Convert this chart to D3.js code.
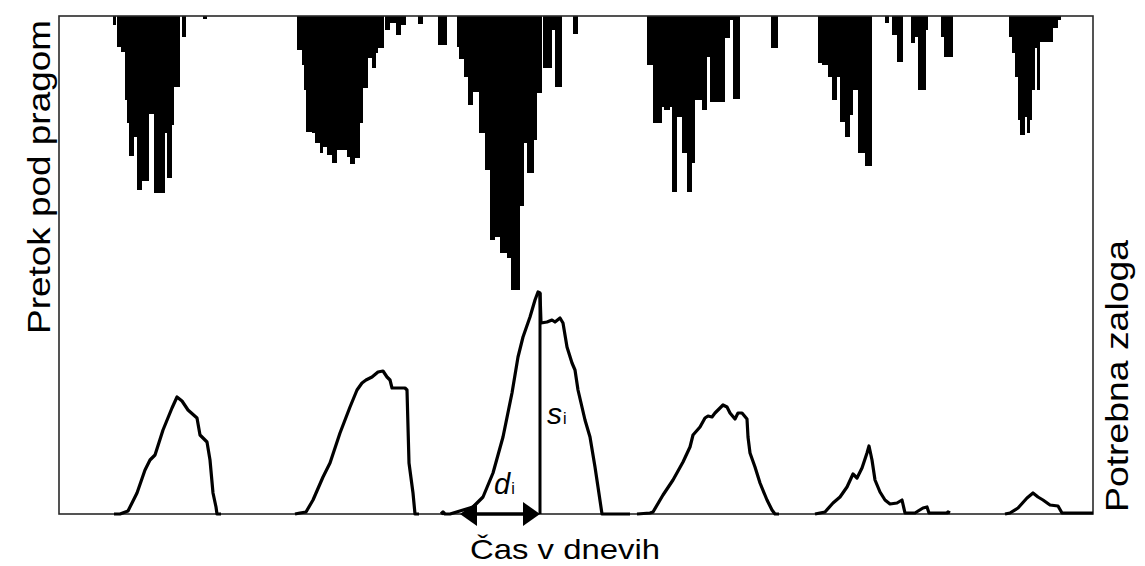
<!DOCTYPE html>
<html><head><meta charset="utf-8">
<script src="https://cdn.jsdelivr.net/npm/d3@7"></script>
<style>body{margin:0;background:#fff}svg{display:block}</style>
</head><body><svg id="c" width="1145" height="566"></svg>
<script>
// ---------- DATA ----------
// time axis in days (0..1034); deficit steps: [startDay, endDay, deficit]
const deficitSteps = [
 [54,57,9],[58,62,31],[62,66,36],[66,68,84],[68,70,107],[70,75,140],[75,78,121],[78,83,174],[83,90,165],[90,95,98],[95,106,177],[106,108,117],[108,113,162],[113,115,109],[115,121,71],[123,127,21],[144,148,3],
 [238,243,34],[243,245,49],[245,247,74],[247,253,116],[253,256,117],[256,261,127],[261,264,137],[264,268,131],[268,273,139],[273,278,147],[278,288,134],[288,291,141],[291,296,148],[296,301,142],[301,304,107],[304,309,72],[309,313,42],[313,317,52],[317,319,37],[319,325,32],[326,331,14],[331,337,7],[337,342,19],[342,347,9],[359,364,8],[379,388,29],
 [398,400,31],[400,405,43],[405,409,61],[409,414,89],[414,420,76],[420,426,117],[426,431,154],[431,436,224],[436,441,221],[441,448,237],[448,452,242],[452,461,274],[461,465,190],[465,468,127],[468,475,157],[475,478,124],[478,483,77],[484,493,52],[493,496,14],[496,503,71],[514,519,18],
 [588,594,49],[594,603,107],[603,605,91],[605,611,94],[611,613,91],[613,618,176],[618,623,101],[623,628,137],[628,633,176],[633,636,147],[636,643,84],[643,648,94],[648,651,41],[651,666,86],[666,671,22],[671,674,4],[674,681,83],[712,719,32],
 [759,763,47],[763,769,49],[769,773,61],[773,778,84],[778,781,61],[781,786,106],[786,791,121],[791,794,99],[794,799,74],[799,806,137],[806,813,150],[826,830,7],[833,838,19],[838,844,46],[852,856,27],[856,859,21],[859,867,74],[867,869,14],[882,885,21],[885,894,41],
 [950,953,21],[953,956,37],[956,959,61],[959,961,104],[961,966,119],[966,968,101],[968,971,117],[971,973,104],[973,976,74],[976,978,32],[978,981,74],[981,984,26],[984,994,26],[994,999,12],[999,1002,4]
];
// required storage, one array per drought event: [day, storage]
const storage1 = [[55,0],[61,0],[69,3],[78,21],[86,44],[91,54],[96,59],[104,84],[113,106],[118,117],[123,113],[129,104],[138,96],[141,79],[144,76],[148,72],[151,54],[154,21],[157,7],[158,0],[162,0]];
const storage2 = [[236,0],[241,1],[247,2],[254,14],[264,37],[271,51],[281,81],[291,107],[298,124],[303,131],[307,134],[313,137],[319,142],[324,143],[328,137],[331,134],[333,126],[346,126],[348,124],[350,51],[354,21],[356,0],[360,0]];
const storage3 = [[382,0],[384,2],[386,0],[391,0],[414,7],[424,17],[434,41],[444,77],[453,121],[459,157],[464,177],[471,197],[476,214],[479,222],[481,221],[482,191],[488,192],[493,194],[496,192],[501,196],[504,191],[508,167],[513,151],[516,144],[519,124],[526,94],[531,77],[536,47],[539,27],[543,0],[571,0]];
const storage4 = [[578,0],[591,1],[594,2],[604,19],[614,34],[624,52],[631,67],[634,79],[641,87],[646,96],[649,98],[653,97],[656,101],[661,106],[664,109],[668,107],[671,101],[676,95],[679,101],[683,101],[688,95],[689,77],[691,61],[696,47],[701,31],[708,14],[713,4],[716,0],[720,0]];
const storage5 = [[756,0],[761,1],[766,2],[774,11],[781,17],[788,27],[794,40],[798,36],[803,46],[808,61],[810,68],[813,54],[816,34],[821,22],[826,14],[831,10],[838,11],[843,14],[846,1],[856,1],[864,6],[868,7],[870,1],[888,1],[889,2],[891,1]];
const storage6 = [[946,0],[951,1],[959,6],[968,16],[974,21],[979,17],[984,14],[991,9],[999,8],[1003,1],[1034,1]];
const storageSeries = [storage1, storage2, storage3, storage4, storage5, storage6];
// annotated event: duration d_i (start, end) and volume s_i
const eventDuration = [401, 481];
const eventVolume = 221;
const labels = {left: "Pretok pod pragom", right: "Potrebna zaloga", bottom: "Čas v dnevih"};

// ---------- LAYOUT ----------
const L = 59, R = 1093, T = 16, B = 514;
const svg = d3.select("#c");
const x = d3.scaleLinear().domain([0, 1034]).range([L, R]);
const yDef = d3.scaleLinear().domain([0, 498]).range([T, B]);
const ySto = d3.scaleLinear().domain([0, 498]).range([B, T]);

// deficit bars hanging from top
svg.append("g").selectAll("rect").data(deficitSteps).join("rect")
  .attr("x", d => x(d[0])).attr("width", d => x(d[1]) - x(d[0]))
  .attr("y", yDef(0)).attr("height", d => yDef(d[2]) - yDef(0))
  .attr("fill", "#000").attr("shape-rendering", "crispEdges");

// frame
svg.append("rect").attr("x", L).attr("y", T).attr("width", R - L).attr("height", B - T)
  .attr("fill", "none").attr("stroke", "#2a2a2a").attr("stroke-width", 1.6);

// storage lines
const line = d3.line().x(d => x(d[0])).y(d => ySto(d[1]));
svg.append("g").selectAll("path").data(storageSeries).join("path")
  .attr("d", line).attr("fill", "none").attr("stroke", "#000")
  .attr("stroke-width", 3.2).attr("stroke-linejoin", "round");

// s_i vertical line
svg.append("line").attr("x1", x(eventDuration[1])).attr("x2", x(eventDuration[1]))
  .attr("y1", ySto(0)).attr("y2", ySto(eventVolume)).attr("stroke", "#000").attr("stroke-width", 3);
// d_i double arrow
const ax0 = x(eventDuration[0]), ax1 = x(eventDuration[1]), ay = ySto(0);
svg.append("line").attr("x1", ax0 + 10).attr("x2", ax1 - 10).attr("y1", ay).attr("y2", ay)
  .attr("stroke", "#000").attr("stroke-width", 3.5);
svg.append("path").attr("d", `M${ax0},${ay}L${ax0 + 17},${ay - 12}L${ax0 + 17},${ay + 12}Z`).attr("fill", "#000");
svg.append("path").attr("d", `M${ax1},${ay}L${ax1 - 17},${ay - 12}L${ax1 - 17},${ay + 12}Z`).attr("fill", "#000");

const font = "'Liberation Sans', Arial, sans-serif";
// annotations
const dT = svg.append("text").attr("x", 494).attr("y", 494).attr("font-family", font);
dT.append("tspan").attr("font-size", 29).attr("font-style", "italic").text("d");
dT.append("tspan").attr("font-size", 16).attr("dx", 1).text("i");
const sT = svg.append("text").attr("x", 547).attr("y", 424).attr("font-family", font);
sT.append("tspan").attr("font-size", 30).attr("font-style", "italic").text("s");
sT.append("tspan").attr("font-size", 16).attr("dx", 1).text("i");

// axis titles
svg.append("text").attr("transform", "translate(50,177) rotate(-90)")
  .attr("text-anchor", "middle").attr("font-family", font).attr("font-size", 32)
  .attr("textLength", 314).attr("lengthAdjust", "spacingAndGlyphs").text(labels.left);
svg.append("text").attr("transform", "translate(1128,376) rotate(-90)")
  .attr("text-anchor", "middle").attr("font-family", font).attr("font-size", 32)
  .attr("textLength", 272).attr("lengthAdjust", "spacingAndGlyphs").text(labels.right);
svg.append("text").attr("x", 565).attr("y", 559)
  .attr("text-anchor", "middle").attr("font-family", font).attr("font-size", 28)
  .attr("textLength", 190).attr("lengthAdjust", "spacingAndGlyphs")
  .text(labels.bottom);
</script></body></html>
